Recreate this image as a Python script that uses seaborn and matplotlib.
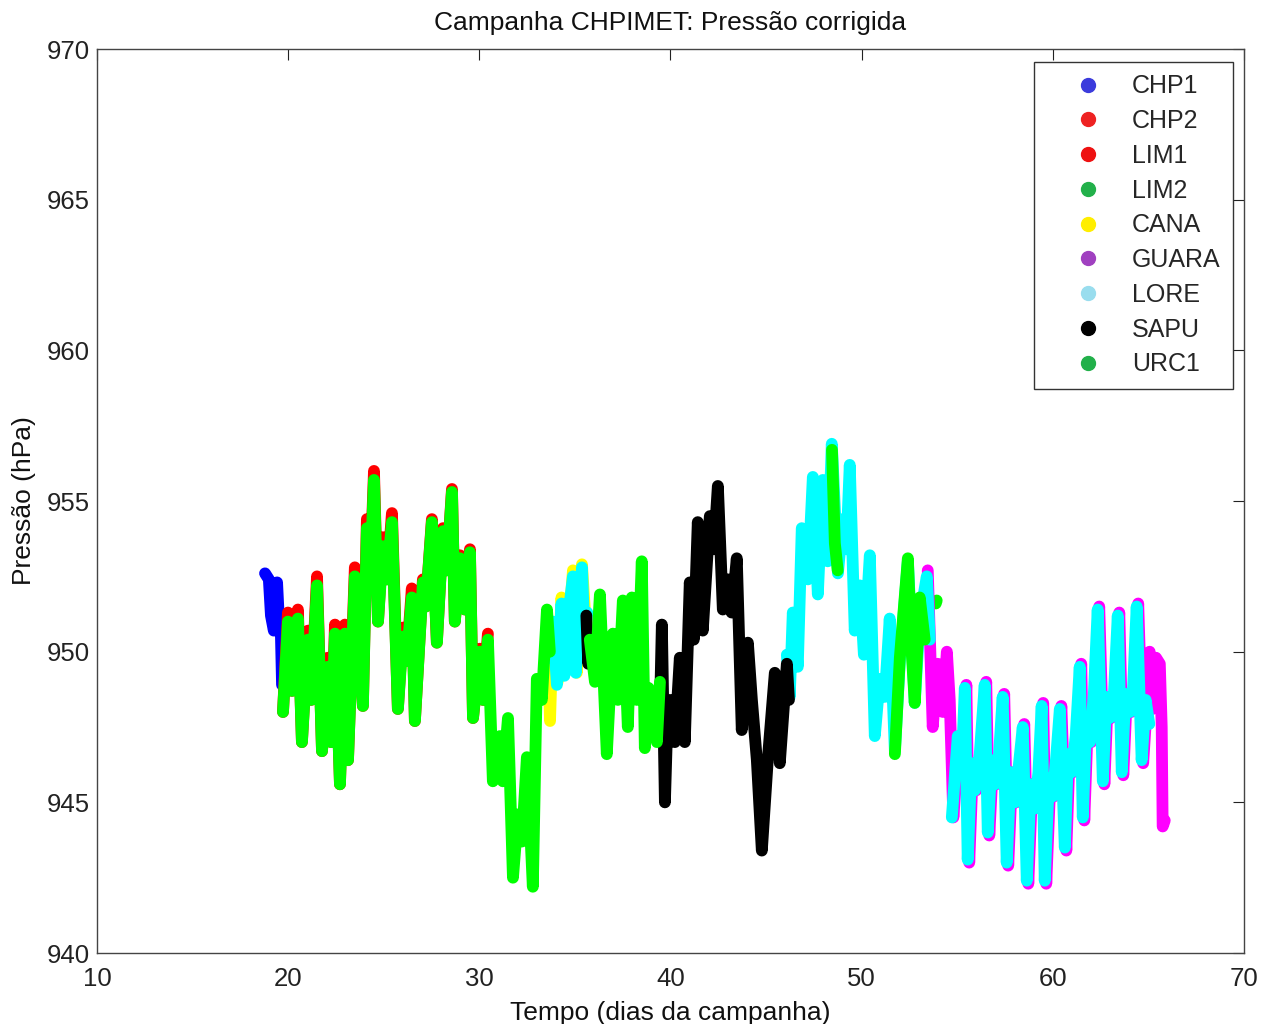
import matplotlib
matplotlib.use("Agg")
import matplotlib.pyplot as plt
from matplotlib.lines import Line2D
import seaborn as sns
import pandas as pd

# ---------------- data ----------------
stations = ["CHP1", "CHP2", "LIM1", "LIM2", "CANA", "GUARA", "LORE", "SAPU", "URC1"]
colors = ["#0000ff", "#ff0000", "#ff0000", "#00ff00", "#ffff00",
          "#ff00ff", "#00ffff", "#000000", "#00ff00"]
legend_colors = ["#3b3bdc", "#ee2222", "#ee1111", "#22b04a", "#ffee00",
                 "#a040c0", "#99ddee", "#000000", "#22b04a"]

CHP1_t = [[18.79, 18.99, 19.10, 19.25, 19.42, 19.52, 19.62, 19.68]]
CHP1_p = [[952.6, 952.4, 951.2, 950.7, 952.3, 951.0, 950.6, 948.9]]

URC1_t = [
    [19.73, 19.99, 20.20, 20.51, 20.72, 21.04, 21.20, 21.51, 21.77, 22.08,
     22.25, 22.45, 22.71, 22.97, 23.13, 23.49, 23.91, 24.12, 24.28, 24.49,
     24.70, 24.96, 25.17, 25.43, 25.74, 26.00, 26.20, 26.47, 26.63, 27.05,
     27.20, 27.52, 27.78, 28.10, 28.30, 28.57, 28.72, 28.99, 29.25, 29.51,
     29.67, 30.03, 30.20, 30.45, 30.71, 31.08, 31.23, 31.50, 31.76, 32.02,
     32.23, 32.49, 32.80, 33.01, 33.27, 33.54, 33.69],
    [35.78, 36.05, 36.31, 36.67, 36.99, 37.25, 37.51, 37.77, 37.98, 38.24,
     38.50, 38.66, 38.85, 39.03, 39.29, 39.45],
    [48.45, 48.60, 48.75],
    [51.74, 52.00, 52.42, 52.60, 52.78, 53.04, 53.30],
]
URC1_p = [
    [948.0, 951.0, 948.7, 951.1, 947.0, 950.4, 948.4, 952.2, 946.7, 949.5,
     947.0, 950.6, 945.6, 950.6, 946.4, 952.5, 948.2, 954.1, 952.3, 955.7,
     951.0, 953.5, 952.4, 954.3, 948.1, 950.5, 949.7, 951.8, 947.7, 952.3,
     951.5, 954.3, 950.3, 954.0, 952.7, 955.3, 951.0, 953.1, 951.4, 953.3,
     947.8, 950.0, 948.4, 950.4, 945.7, 947.2, 945.7, 947.8, 942.5, 944.6,
     943.7, 946.5, 942.2, 949.1, 948.4, 951.4, 950.0],
    [950.4, 949.0, 951.9, 946.6, 950.6, 948.4, 951.7, 947.5, 951.8, 948.4,
     953.0, 946.8, 948.8, 948.3, 947.0, 949.0],
    [956.7, 953.6, 952.7],
    [946.6, 949.8, 953.1, 950.2, 948.3, 951.8, 950.4],
]

CHP2_t = [URC1_t[0][:44]]
CHP2_p = [[948.0, 951.3, 948.7, 951.4, 947.0, 950.7, 948.4, 952.5, 946.7, 949.8,
           947.0, 950.9, 945.6, 950.9, 946.4, 952.8, 948.2, 954.4, 952.3, 956.0,
           951.0, 953.8, 952.4, 954.6, 948.1, 950.8, 949.7, 952.1, 947.7, 952.4,
           951.5, 954.4, 950.3, 954.1, 952.7, 955.4, 951.0, 953.2, 951.4, 953.4,
           947.8, 950.1, 948.4, 950.6]]

LIM1_t = [[22.25, 22.32, 22.40]]
LIM1_p = [[947.3, 947.1, 947.4]]

LIM2_t = [[53.88, 53.93]]
LIM2_p = [[951.6, 951.7]]

CANA_t = [[33.40, 33.55, 33.70, 33.85, 34.10, 34.30, 34.50, 34.90, 35.10, 35.37, 35.60]]
CANA_p = [[948.6, 950.8, 947.7, 950.9, 949.0, 951.8, 949.4, 952.7, 949.3, 952.9, 950.6]]

GUARA_t = [[53.46, 53.72, 53.98, 54.25, 54.46, 54.61, 54.80, 55.11, 55.30, 55.48,
            55.63, 55.83, 56.00, 56.26, 56.52, 56.68, 56.88, 57.05, 57.26, 57.46,
            57.67, 57.88, 58.09, 58.30, 58.51, 58.72, 58.93, 59.14, 59.33, 59.50,
            59.66, 59.88, 60.08, 60.26, 60.45, 60.71, 60.88, 61.07, 61.28, 61.49,
            61.65, 61.83, 62.02, 62.23, 62.43, 62.70, 62.88, 63.06, 63.28, 63.48,
            63.69, 63.88, 64.11, 64.28, 64.47, 64.73, 64.94, 65.07, 65.22, 65.40,
            65.60, 65.70, 65.75, 65.86]]
GUARA_p = [[952.7, 947.5, 949.6, 948.0, 950.0, 948.4, 944.5, 947.2, 946.0, 948.9,
            943.0, 946.3, 945.4, 946.6, 949.0, 943.9, 946.4, 945.6, 946.5, 948.6,
            942.9, 946.0, 945.0, 946.2, 947.6, 942.3, 945.6, 944.8, 946.0, 948.3,
            942.3, 945.8, 945.2, 946.5, 948.2, 943.4, 946.6, 946.0, 947.2, 949.6,
            944.4, 947.6, 947.0, 948.6, 951.5, 945.6, 948.5, 947.8, 948.6, 951.3,
            945.9, 948.6, 948.0, 948.8, 951.6, 946.3, 948.4, 950.0, 948.1, 949.8,
            949.6, 947.5, 944.2, 944.4]]

LORE_t = [
    [33.70, 33.85, 34.06, 34.30, 34.45, 34.62, 34.90, 35.05, 35.37, 35.50, 35.65],
    [46.09, 46.24, 46.40, 46.66, 46.87, 47.19, 47.45, 47.71, 47.97, 48.23,
     48.44, 48.76, 49.02, 49.20, 49.38, 49.64, 49.91, 50.12, 50.43, 50.69,
     50.95, 51.21, 51.47, 51.74, 52.00, 52.42, 52.78, 53.04, 53.41, 53.57],
    [54.72, 55.03, 55.22, 55.40, 55.55, 55.75, 55.92, 56.18, 56.44, 56.60,
     56.80, 56.97, 57.18, 57.38, 57.59, 57.80, 58.01, 58.22, 58.43, 58.64,
     58.85, 59.06, 59.25, 59.42, 59.58, 59.80, 60.00, 60.18, 60.37, 60.63,
     60.80, 60.99, 61.20, 61.41, 61.57, 61.75, 61.94, 62.15, 62.35, 62.62,
     62.80, 62.98, 63.20, 63.40, 63.61, 63.80, 64.03, 64.20, 64.39, 64.65,
     64.86, 65.05],
]
LORE_p = [
    [949.8, 951.0, 948.9, 951.6, 949.2, 951.0, 952.5, 949.3, 952.8, 950.6, 951.3],
    [949.9, 948.5, 951.3, 949.5, 954.1, 952.4, 955.8, 951.9, 955.7, 953.0,
     956.9, 952.6, 954.4, 953.4, 956.2, 950.7, 952.2, 949.9, 953.2, 947.2,
     949.1, 948.5, 951.1, 946.7, 949.7, 953.0, 948.3, 951.1, 952.5, 950.4],
    [944.5, 947.2, 946.0, 948.8, 943.1, 946.3, 945.4, 946.6, 948.9, 944.0,
     946.4, 945.6, 946.5, 948.5, 943.0, 946.0, 945.0, 946.2, 947.5, 942.4,
     945.6, 944.8, 946.0, 948.2, 942.4, 945.8, 945.2, 946.5, 948.1, 943.5,
     946.6, 946.0, 947.2, 949.5, 944.5, 947.6, 947.0, 948.6, 951.4, 945.7,
     948.5, 947.8, 948.6, 951.2, 946.0, 948.6, 948.0, 948.8, 951.5, 946.4,
     948.4, 947.6],
]

SAPU_t = [
    [35.60, 35.70, 35.80],
    [39.45, 39.55, 39.71, 39.85, 39.97, 40.23, 40.49, 40.75, 41.01, 41.22,
     41.43, 41.69, 42.06, 42.27, 42.48, 42.74, 43.00, 43.20, 43.47, 43.73,
     44.05, 44.26, 44.52, 44.78, 45.09, 45.46, 45.72, 46.09, 46.20],
]
SAPU_p = [
    [951.2, 949.6, 950.5],
    [948.0, 950.9, 945.0, 948.0, 948.4, 947.0, 949.8, 947.0, 952.3, 950.4,
     954.3, 950.7, 954.5, 953.4, 955.5, 951.4, 952.4, 951.3, 953.1, 947.4,
     950.3, 948.4, 946.4, 943.4, 946.4, 949.3, 946.3, 949.6, 948.4],
]

series_t = [CHP1_t, CHP2_t, LIM1_t, LIM2_t, CANA_t, GUARA_t, LORE_t, SAPU_t, URC1_t]
series_p = [CHP1_p, CHP2_p, LIM1_p, LIM2_p, CANA_p, GUARA_p, LORE_p, SAPU_p, URC1_p]

x_ticks = [10, 20, 30, 40, 50, 60, 70]
y_ticks = [940, 945, 950, 955, 960, 965, 970]

# ---------------- figure ----------------
sns.set_theme(style="white")
plt.rcParams["font.family"] = ["Liberation Sans", "DejaVu Sans"]

fig = plt.figure(figsize=(12.68, 10.24), dpi=100)
ax = fig.add_axes([0.0765, 0.0693, 0.9045, 0.8828])

for name, col, ts, ps in zip(stations, colors, series_t, series_p):
    rows = []
    for k, (tt, pp) in enumerate(zip(ts, ps)):
        for a, b in zip(tt, pp):
            rows.append((a, b, k))
    df = pd.DataFrame(rows, columns=["t", "p", "seg"])
    sns.lineplot(data=df, x="t", y="p", units="seg", estimator=None, sort=False,
                 color=col, linewidth=8.5, legend=False, ax=ax,
                 solid_joinstyle="round", solid_capstyle="round")

ax.set_xlim(10, 70)
ax.set_ylim(940, 970)
ax.set_xticks(x_ticks)
ax.set_yticks(y_ticks)
ax.tick_params(direction="in", length=8, width=0.8, top=True, right=True,
               labelsize=18.5, colors="#222222")
ax.tick_params(axis="x", pad=10)
ax.tick_params(axis="y", pad=5)
for s in ax.spines.values():
    s.set_visible(True)
    s.set_color("#444444")
    s.set_linewidth(1.0)

ax.set_title("Campanha CHPIMET: Pressão corrigida", fontsize=19, pad=14, color="#111111")
ax.set_xlabel("Tempo (dias da campanha)", fontsize=19, labelpad=7, color="#111111")
ax.set_ylabel("Pressão (hPa)", fontsize=19, labelpad=8, color="#111111")

handles = [Line2D([], [], linestyle="none", marker="o", markersize=10,
                  markerfacecolor=c, markeredgecolor=c) for c in legend_colors]
leg = ax.legend(handles, stations, loc="upper right", bbox_to_anchor=(0.9905, 0.9858),
                fontsize=18, frameon=True, fancybox=False, framealpha=1,
                edgecolor="#333333", handlelength=3.3, handletextpad=0.1,
                labelspacing=0.43, borderpad=0.5, borderaxespad=0)
leg.get_frame().set_linewidth(1.0)

fig.savefig("out.png", dpi=100)
